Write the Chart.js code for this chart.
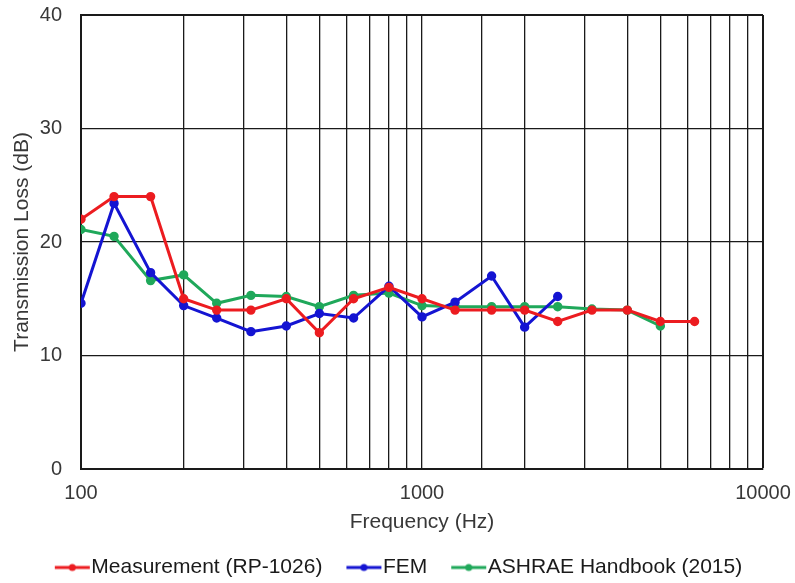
<!DOCTYPE html>
<html>
<head>
<meta charset="utf-8">
<script src="https://cdn.jsdelivr.net/npm/chart.js@4.4.1/dist/chart.umd.min.js"></script>
<style>
  html, body { margin: 0; padding: 0; background: #fff; overflow: hidden; }
  #wrap { width: 795px; height: 588px; }
</style>
</head>
<body>
<div id="wrap"><canvas id="tl"></canvas></div>
<script>
// 1/3-octave band centre frequencies (Hz)
const freqs = [100, 125, 160, 200, 250, 315, 400, 500, 630, 800, 1000, 1250, 1600, 2000, 2500, 3150, 4000, 5000, 6300];

// transmission loss (dB) per band
const measurement = [22, 24, 24, 15, 14, 14, 15, 12, 15, 16, 15, 14, 14, 14, 13, 14, 14, 13, 13];
const fem = [14.6, 23.4, 17.3, 14.4, 13.3, 12.1, 12.6, 13.7, 13.3, 16.1, 13.4, 14.7, 17.0, 12.5, 15.2];
const ashrae = [21.1, 20.5, 16.6, 17.1, 14.6, 15.3, 15.2, 14.3, 15.3, 15.5, 14.4, 14.3, 14.3, 14.3, 14.3, 14.1, 14.0, 12.6];

const seriesNames = ['Measurement (RP-1026)', 'FEM', 'ASHRAE Handbook (2015)'];
const seriesColors = ['#ec1c20', '#1414d2', '#1fa85a'];
const xLabels = [100, 1000, 10000];
const yTicks = [0, 10, 20, 30, 40];

const FONT = "'Liberation Sans', Arial, sans-serif";
const TEXT = '#383838';

function pts(vals) {
  return vals.map((v, i) => ({ x: freqs[i], y: v }));
}

// line-with-dot swatch for the legend; drawn centred on the point box,
// so the stroke sits in the right-hand part to run up to the label
function swatch(color) {
  const c = document.createElement('canvas');
  c.width = 50; c.height = 10;
  const g = c.getContext('2d');
  g.strokeStyle = color; g.lineWidth = 3;
  g.beginPath(); g.moveTo(14, 5); g.lineTo(49, 5); g.stroke();
  g.fillStyle = color;
  g.beginPath(); g.arc(31.5, 5, 3.5, 0, Math.PI * 2); g.fill();
  return c;
}

const datasets = [measurement, fem, ashrae].map((vals, i) => ({
  label: seriesNames[i],
  data: pts(vals),
  borderColor: seriesColors[i],
  backgroundColor: seriesColors[i],
  borderWidth: 3,
  pointRadius: 3.2,
  pointHoverRadius: 3.2,
  pointStyle: 'circle',
  tension: 0
}));

const swatches = seriesColors.map(swatch);

// nudge the legend row a little to the right of the canvas centre
const legendShift = {
  id: 'legendShift',
  afterLayout(chart) {
    if (chart.legend) { chart.legend.left += 15; chart.legend.right += 15; }
  }
};

new Chart(document.getElementById('tl'), {
  type: 'line',
  data: { datasets },
  plugins: [legendShift],
  options: {
    responsive: true,
    maintainAspectRatio: false,
    animation: false,
    layout: { padding: { left: 0, right: 32, top: 15, bottom: 0 } },
    plugins: {
      tooltip: { enabled: false },
      legend: {
        position: 'bottom',
        labels: {
          usePointStyle: true,
          pointStyleWidth: 30,
          padding: 20,
          color: '#1a1a1a',
          font: { family: FONT, size: 21 },
          generateLabels(chart) {
            return chart.data.datasets.map((ds, i) => ({
              text: ds.label,
              pointStyle: swatches[i],
              fillStyle: ds.borderColor,
              strokeStyle: ds.borderColor,
              lineWidth: 0,
              fontColor: '#1a1a1a',
              datasetIndex: i,
              hidden: false
            }));
          }
        }
      }
    },
    scales: {
      x: {
        type: 'logarithmic',
        min: 100,
        max: 10000,
        afterFit(s) { s.height = 68; s.paddingLeft = 0; s.paddingRight = 0; },
        grid: {
          color: '#1a1a1a',
          lineWidth: ctx => (ctx.tick && ctx.tick.value === 10000 ? 2 : 1.3),
          drawTicks: false
        },
        border: { color: '#1a1a1a', width: 2 },
        ticks: {
          autoSkip: false,
          maxRotation: 0,
          padding: 12,
          color: TEXT,
          font: { family: FONT, size: 20 },
          callback(v) { return xLabels.includes(v) ? String(v) : ''; }
        },
        title: {
          display: true,
          text: 'Frequency (Hz)',
          color: TEXT,
          font: { family: FONT, size: 21 },
          padding: { top: 4, bottom: 2.4 }
        }
      },
      y: {
        min: 0,
        max: 40,
        afterFit(s) { s.width = 81; s.paddingTop = 0; s.paddingBottom = 0; },
        afterBuildTicks(s) { s.ticks = yTicks.map(v => ({ value: v })); },
        grid: {
          color: '#1a1a1a',
          lineWidth: ctx => (ctx.tick && ctx.tick.value === 40 ? 2 : 1.3),
          drawTicks: false
        },
        border: { color: '#1a1a1a', width: 2 },
        ticks: {
          padding: 19,
          color: TEXT,
          font: { family: FONT, size: 20 }
        },
        title: {
          display: true,
          text: 'Transmission Loss (dB)',
          color: TEXT,
          font: { family: FONT, size: 21 },
          padding: { top: 10, bottom: 4 }
        }
      }
    }
  }
});
</script>
</body>
</html>
